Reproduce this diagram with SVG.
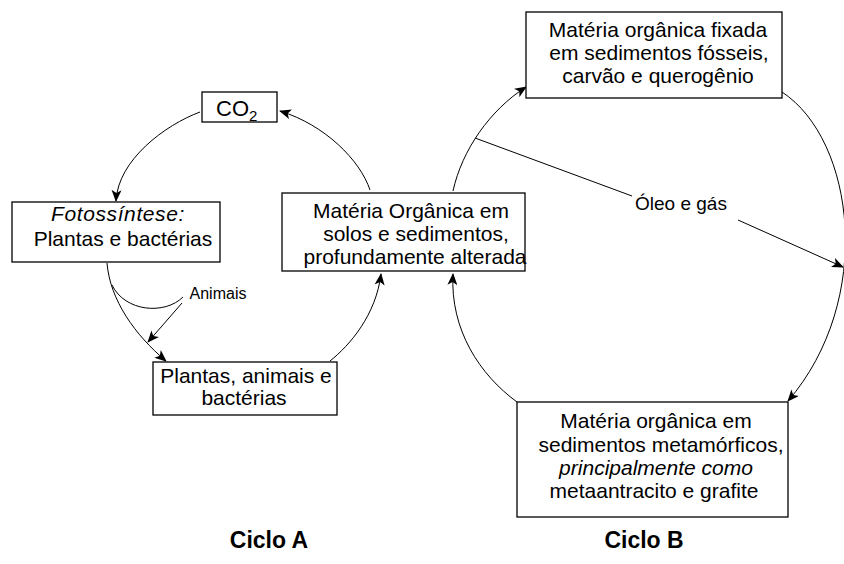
<svg xmlns="http://www.w3.org/2000/svg" width="844" height="564" viewBox="0 0 844 564">
<defs>
<style>
.box{fill:#fff;stroke:#000;stroke-width:1.3}
.t{font-family:"Liberation Sans",Arial,sans-serif;font-size:21px;fill:#000;text-anchor:middle}
.it{font-style:italic}
.lbl{font-family:"Liberation Sans",Arial,sans-serif;fill:#000;text-anchor:middle}
.cyc{font-family:"Liberation Sans",Arial,sans-serif;font-size:23px;font-weight:bold;fill:#000;text-anchor:middle}
.c{fill:none;stroke:#000;stroke-width:1}
</style>
<marker id="ah" viewBox="0 0 12 10" refX="11" refY="5" markerWidth="13" markerHeight="10" markerUnits="userSpaceOnUse" orient="auto">
<path d="M0,0 L12,5 L0,10 L3,5 Z" fill="#000"/>
</marker>
</defs>
<rect width="844" height="564" fill="#fff"/>
<g id="connectors">
<path class="c" d="M370,190 C360,160 325,125 280,111" marker-end="url(#ah)"/>
<path class="c" d="M200,112 C165,125 118,160 116,201" marker-end="url(#ah)"/>
<path class="c" d="M107,263 C110,300 135,335 166,361" marker-end="url(#ah)"/>
<path class="c" d="M112,285 C125,312 165,315 183,297"/>
<path class="c" d="M182,303 L148,342" marker-end="url(#ah)"/>
<path class="c" d="M330,361 C350,345 376,315 381,274" marker-end="url(#ah)"/>
<path class="c" d="M453,191 C462,150 490,110 526,87" marker-end="url(#ah)"/>
<path class="c" d="M782,92 C855,140 875,300 788,401" marker-end="url(#ah)"/>
<path class="c" d="M517,402 C480,375 450,330 453,274" marker-end="url(#ah)"/>
<path class="c" d="M475,138 L632,196"/>
<path class="c" d="M738,220 L843,267" marker-end="url(#ah)"/>
</g>
<g id="co2">
<rect class="box" x="202" y="92" width="75" height="30"/>
<text class="t" x="216" y="116" style="text-anchor:start;font-size:22px">CO<tspan font-size="15" dy="5">2</tspan></text>
</g>
<g id="fotossintese">
<rect class="box" x="12" y="202" width="208" height="60"/>
<text class="t it" x="118" y="221" letter-spacing="0.6">Fotossíntese:</text>
<text class="t" x="123" y="246">Plantas e bactérias</text>
</g>
<g id="plantas">
<rect class="box" x="153" y="362" width="184" height="53"/>
<text class="t" x="246" y="383">Plantas, animais e</text>
<text class="t" x="244" y="405">bactérias</text>
</g>
<g id="animais">
<text class="lbl" x="218" y="299" font-size="16">Animais</text>
</g>
<g id="materia-solos">
<rect class="box" x="282" y="193" width="243" height="78"/>
<text class="t" x="411" y="218">Matéria Orgânica em</text>
<text class="t" x="416" y="241">solos e sedimentos,</text>
<text class="t" x="415" y="264">profundamente alterada</text>
</g>
<g id="materia-fixada">
<rect class="box" x="526" y="12" width="256" height="86"/>
<text class="t" x="658" y="37">Matéria orgânica fixada</text>
<text class="t" x="659" y="60">em sedimentos fósseis,</text>
<text class="t" x="658" y="83">carvão e querogênio</text>
</g>
<g id="materia-metamorficos">
<rect class="box" x="517" y="402" width="271" height="115"/>
<text class="t" x="656" y="428">Matéria orgânica em</text>
<text class="t" x="661" y="452">sedimentos metamórficos,</text>
<text class="t it" x="656" y="475">principalmente como</text>
<text class="t" x="654" y="498">metaantracito e grafite</text>
</g>
<g id="oleo-gas">
<text class="lbl" x="681" y="210" font-size="19">Óleo e gás</text>
</g>
<g id="ciclos">
<text class="cyc" x="269" y="548">Ciclo A</text>
<text class="cyc" x="644" y="548">Ciclo B</text>
</g>
</svg>
